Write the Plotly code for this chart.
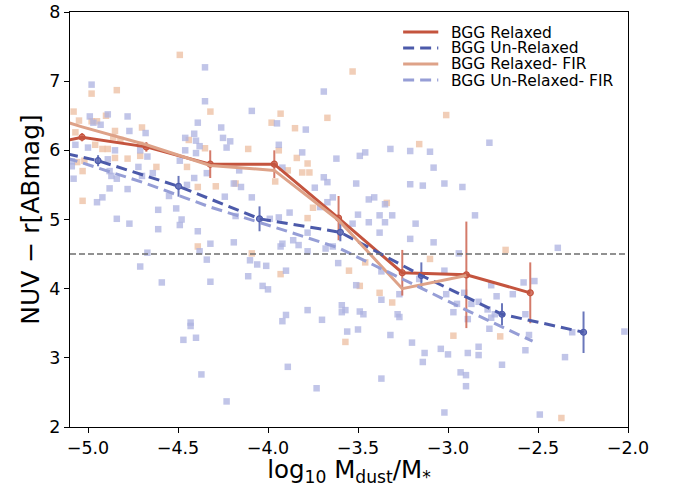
import plotly.graph_objects as go

# ---- binned medians (with out-of-range first bin) ----
rel_x = [-5.389, -5.033, -4.676, -4.321, -3.965, -3.608, -3.254, -2.898, -2.543]
rel_y = [5.99, 6.19, 6.05, 5.80, 5.80, 5.02, 4.23, 4.20, 3.94]
rel_err = [0.06, 0.06, 0.07, 0.20, 0.20, 0.32, 0.33, 0.77, 0.44]

unrel_x = [-5.393, -4.944, -4.497, -4.047, -3.598, -3.148, -2.700, -2.247]
unrel_y = [6.11, 5.85, 5.48, 5.01, 4.815, 4.19, 3.63, 3.37]
unrel_err = [0.08, 0.08, 0.15, 0.18, 0.13, 0.19, 0.16, 0.30]

relfir_x = [-5.389, -5.033, -4.676, -4.321, -3.965, -3.608, -3.254, -2.898]
relfir_y = [6.62, 6.34, 6.08, 5.78, 5.71, 4.99, 4.00, 4.19]

unrelfir_x = [-5.389, -5.033, -4.676, -4.321, -3.965, -3.608, -3.254, -2.898, -2.530]
unrelfir_y = [6.10, 5.82, 5.52, 5.18, 4.89, 4.59, 4.14, 3.69, 3.24]

# ---- individual galaxies ----
gal_unrel_x = [-4.35, -4.98, -3.69, -4.35, -4.09, -4.99, -4.89, -4.78, -4.97, -4.93, -3.95, -4.39, -4.26, -3.79,
               -4.77, -4.68, -4.41, -4.46, -4.25, -4.40, -4.21, -4.38, -5.07, -5.00, -4.71, -4.23, -3.94, -3.81,
               -3.62, -4.85, -4.49, -4.46, -4.40, -4.67, -5.09, -5.09, -4.72, -4.64, -4.34, -4.16, -3.92, -4.88,
               -4.87, -4.89, -4.84, -5.08, -4.70, -4.41, -4.45, -4.19, -4.15, -3.74, -3.69, -3.67, -4.88, -4.78,
               -4.55, -4.24, -4.09, -4.95, -4.92, -4.51, -4.61, -3.71, -3.64, -3.67, -3.88, -3.94, -3.99, -4.18,
               -4.84, -4.48,
               -2.77, -3.49, -3.46, -3.32, -3.21, -3.10, -3.08, -3.51, -3.21, -3.14, -3.02, -2.92, -3.44, -3.41,
               -3.35, -3.50, -3.38, -3.31, -2.85, -3.53, -3.44, -3.35, -3.18,
               -4.77, -4.61, -4.49, -4.39, -4.32, -4.19, -4.38, -4.67, -3.92, -3.93, -3.86, -3.83, -3.78, -3.78,
               -3.68, -3.64, -4.71, -4.34, -4.10, -4.06, -4.01, -3.90, -3.61, -4.59, -4.32, -4.11, -4.03, -4.00,
               -3.59, -3.59, -3.57, -3.78, -3.70, -3.90, -3.92, -4.43, -4.43, -4.47, -4.40, -3.56, -3.89, -3.73,
               -4.37, -4.23,
               -3.38, -3.21, -3.08, -2.39, -2.94, -3.37, -3.02, -3.16, -3.51, -3.27, -3.01, -2.91, -2.76, -2.73,
               -2.64, -2.58, -2.52, -3.37, -2.95, -2.87, -2.83, -2.78, -2.74, -2.76, -3.49, -3.47, -3.28, -3.27,
               -2.97, -2.89, -2.57, -3.50, -3.32, -2.77, -2.55, -2.31, -2.02, -3.20, -3.13, -3.14, -3.04, -3.00,
               -2.89, -2.83, -2.83, -2.70, -2.57, -2.35, -3.37, -2.93, -2.90, -2.90, -3.02, -2.49]
gal_unrel_y = [7.20, 6.95, 6.85, 6.71, 6.57, 6.49, 6.52, 6.49, 6.40, 6.37, 6.39, 6.40, 6.33, 6.30,
               6.28, 6.25, 6.24, 6.18, 6.18, 6.14, 6.13, 6.06, 6.08, 6.04, 6.00, 6.04, 6.08, 5.97,
               5.88, 6.00, 5.85, 6.00, 5.96, 5.91, 5.84, 5.77, 5.76, 5.67, 5.67, 5.71, 5.75, 5.70,
               5.63, 5.87, 5.59, 5.59, 5.63, 5.60, 5.50, 5.52, 5.47, 5.46, 5.61, 5.54, 5.45, 5.44,
               5.34, 5.33, 5.32, 5.25, 5.32, 5.16, 5.14, 5.18, 5.32, 5.25, 5.10, 5.03, 5.01, 5.05,
               5.01, 5.00,
               6.11, 5.92, 5.97, 6.02, 5.99, 5.98, 5.75, 5.52, 5.51, 5.49, 5.52, 5.47, 5.29, 5.32,
               5.22, 5.07, 5.06, 5.06, 5.06, 4.94, 4.96, 4.96, 4.94,
               4.94, 4.86, 4.92, 4.83, 4.65, 4.67, 4.54, 4.52, 4.65, 4.61, 4.70, 4.63, 4.54, 4.81,
               4.58, 4.61, 4.32, 4.42, 4.41, 4.35, 4.33, 4.26, 4.37, 4.09, 4.10, 4.18, 4.04, 3.99,
               3.76, 3.66, 3.69, 3.69, 3.55, 3.62, 3.53, 3.51, 3.46, 3.26, 3.29, 3.38, 2.87, 2.56,
               2.76, 2.37,
               4.81, 4.72, 4.67, 4.59, 4.51, 4.25, 4.26, 4.14, 4.05, 3.92, 3.92, 3.94, 4.05, 3.89,
               3.92, 4.09, 4.11, 3.84, 3.78, 3.78, 3.81, 3.70, 3.63, 3.58, 3.67, 3.63, 3.63, 3.59,
               3.66, 3.56, 3.63, 3.41, 3.33, 3.42, 3.33, 3.37, 3.38, 3.22, 3.07, 2.94, 3.13, 3.05,
               3.07, 3.16, 3.04, 2.90, 3.11, 3.01, 2.70, 2.79, 2.75, 2.59, 2.21, 2.18]

gal_rel_x = [-4.49, -4.98, -4.84, -4.32, -5.08, -3.67, -5.05, -4.90, -4.98, -4.95, -3.98, -3.93, -3.85, -4.85,
             -4.70, -5.07, -4.44, -4.96, -4.82, -4.86, -4.71, -4.35, -4.11, -3.94, -4.92, -4.89, -4.85, -4.78,
             -4.71, -5.02, -3.84, -3.78, -3.77, -3.81, -4.62, -4.45, -3.89, -5.03, -4.39, -4.29, -4.18, -5.03,
             -3.75, -3.78, -3.96, -5.06,
             -3.53, -3.01, -3.16, -3.34,
             -4.39, -4.09, -3.93, -3.55, -3.57,
             -2.68, -3.10, -3.46, -3.49, -3.38, -3.31, -2.97, -2.71, -2.37]
gal_rel_y = [7.38, 6.82, 6.87, 6.56, 6.56, 6.47, 6.43, 6.50, 6.42, 6.42, 6.40, 6.53, 6.32, 6.28,
             6.33, 6.26, 6.15, 6.08, 6.15, 6.19, 6.08, 6.03, 6.02, 6.00, 6.02, 6.02, 5.89, 5.88,
             5.92, 5.85, 5.89, 5.81, 5.68, 5.68, 5.76, 5.76, 5.71, 5.70, 5.47, 5.48, 5.52, 5.27,
             5.17, 5.02, 5.55, 5.83,
             7.14, 6.51, 6.09, 5.24,
             4.61, 4.51, 4.21, 4.26, 3.23,
             4.56, 4.43, 4.38, 4.04, 3.94, 3.80, 3.32, 3.31, 2.13]

ref_level = 4.5
x_ticks = [-5.0, -4.5, -4.0, -3.5, -3.0, -2.5, -2.0]
y_ticks = [2, 3, 4, 5, 6, 7, 8]

legend_names = ["BGG Relaxed", "BGG Un-Relaxed", "BGG Relaxed- FIR", "BGG Un-Relaxed- FIR"]

C_REL = "rgb(196,84,62)"
C_REL_ERR = "rgba(205,100,80,0.85)"
C_UNREL = "rgb(76,90,170)"
C_UNREL_ERR = "rgba(80,95,175,0.85)"
C_RELFIR = "rgb(222,162,136)"
C_UNRELFIR = "rgb(150,158,214)"
DASH = "11px,6px"

fig = go.Figure()

fig.add_trace(go.Scatter(x=gal_rel_x, y=gal_rel_y, mode="markers", showlegend=False,
                         marker=dict(symbol="square", size=6.5, color="rgb(236,190,160)", opacity=0.75,
                                     line=dict(width=0))))
fig.add_trace(go.Scatter(x=gal_unrel_x, y=gal_unrel_y, mode="markers", showlegend=False,
                         marker=dict(symbol="square", size=6.5, color="rgb(172,178,224)", opacity=0.75,
                                     line=dict(width=0))))

fig.add_shape(type="line", xref="paper", x0=0, x1=1, yref="y", y0=ref_level, y1=ref_level,
              line=dict(color="rgb(110,110,110)", width=1.5, dash="6px,3px"), layer="above")

# error bars + markers
fig.add_trace(go.Scatter(x=rel_x, y=rel_y, mode="markers", showlegend=False,
                         error_y=dict(type="data", array=rel_err, color=C_REL_ERR, thickness=2, width=0),
                         marker=dict(symbol="circle", size=6, color="rgba(210,110,95,0.9)",
                                     line=dict(color=C_REL, width=1.2))))
fig.add_trace(go.Scatter(x=unrel_x, y=unrel_y, mode="markers", showlegend=False,
                         error_y=dict(type="data", array=unrel_err, color=C_UNREL_ERR, thickness=2, width=0),
                         marker=dict(symbol="circle", size=6, color="rgba(100,112,185,0.9)",
                                     line=dict(color=C_UNREL, width=1.2))))

line_styles = [dict(color=C_REL, width=3),
               dict(color=C_UNREL, width=3, dash=DASH),
               dict(color=C_RELFIR, width=3),
               dict(color=C_UNRELFIR, width=3, dash=DASH)]
series = [(rel_x, rel_y), (unrel_x, unrel_y), (relfir_x, relfir_y), (unrelfir_x, unrelfir_y)]
for (sx, sy), name, ls in zip(series, legend_names, line_styles):
    fig.add_trace(go.Scatter(x=sx, y=sy, mode="lines", name=name, line=ls, showlegend=False))

# compact legend (matplotlib style) in paper coordinates
legend_rows_y = [0.9518, 0.9133, 0.8747, 0.8361]
for name, ls, ly in zip(legend_names, line_styles, legend_rows_y):
    fig.add_shape(type="line", xref="paper", yref="paper", x0=0.597, x1=0.66, y0=ly, y1=ly,
                  line=ls, layer="above")
    fig.add_annotation(xref="paper", yref="paper", x=0.681, y=ly, text=name, showarrow=False,
                       xanchor="left", yanchor="middle", height=15, borderpad=0,
                       font=dict(size=15.5, color="black"))

font_family = "DejaVu Sans"
fig.update_layout(
    width=676, height=487,
    margin=dict(l=70, r=48, t=12, b=60),
    paper_bgcolor="white", plot_bgcolor="white",
    font=dict(family=font_family, color="black"),
    showlegend=False,
    xaxis=dict(range=[-5.1, -2.0], tickvals=x_ticks, tickformat=".1f", ticks="outside", ticklen=5,
               tickcolor="black", showline=True, linecolor="black", linewidth=1, mirror=True,
               showgrid=False, zeroline=False, tickfont=dict(size=17.5), automargin=False,
               title=dict(text="log<sub>10</sub> M<sub>dust</sub>/M<sub>*</sub>", font=dict(size=24.5), standoff=0)),
    yaxis=dict(range=[2, 8], tickvals=y_ticks, ticks="outside", ticklen=5,
               tickcolor="black", showline=True, linecolor="black", linewidth=1, mirror=True,
               showgrid=False, zeroline=False, tickfont=dict(size=17.5), automargin=False,
               title=dict(text="NUV − r[ABmag]", font=dict(size=25), standoff=2)),
)

fig.write_html("out.html", config={"displayModeBar": False},
               post_script="document.body.style.margin='0px';")
